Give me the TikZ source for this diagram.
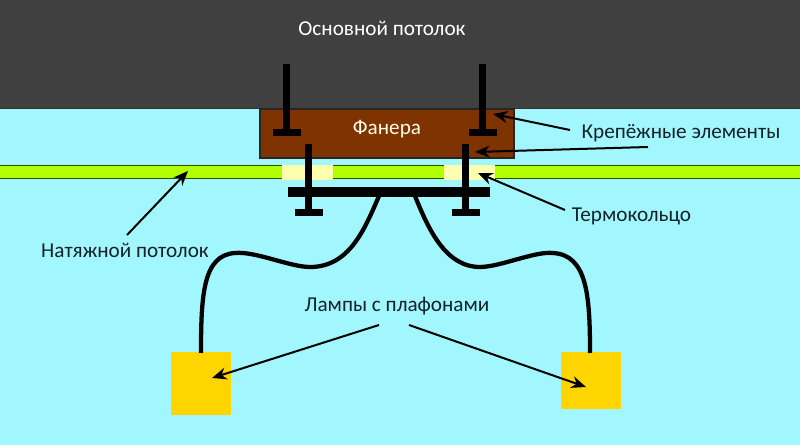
\documentclass[tikz,border=0pt]{standalone}
\usepackage{fontspec}
\setmainfont{Carlito}
\usetikzlibrary{arrows.meta}
\definecolor{roomblue}{HTML}{A2F7FE}
\definecolor{slabgray}{HTML}{404040}
\definecolor{plybrown}{HTML}{7F3300}
\definecolor{filmgreen}{HTML}{B2FF00}
\definecolor{ringyellow}{HTML}{FBFFAE}
\definecolor{lampyellow}{HTML}{FFD500}
\definecolor{inkdark}{HTML}{152228}
\tikzset{
  lbl/.style={font=\fontsize{15.9pt}{18pt}\selectfont, text=inkdark, inner sep=0pt},
  lamp/.style={fill=lampyellow, draw=none, inner sep=0pt, anchor=north west},
  wire/.style={draw=black, line width=3.2pt},
  ptr/.style={draw=black, line width=1.5pt, -{Stealth[length=11pt,width=9pt]}},
  bolt/.style={fill=black, draw=none}
}
\begin{document}
\begin{tikzpicture}[x=0.75pt,y=-0.75pt]
\useasboundingbox (0,0) rectangle (800,445);
\fill[roomblue] (0,0) rectangle (800,445);
\fill[slabgray] (0,0) rectangle (800,108);
\draw[draw=black!80, line width=0.8pt] (0,108.5) -- (800,108.5);
\draw[fill=filmgreen, draw=black!70!filmgreen, line width=0.7pt] (-2,165.5) rectangle (802,178.5);
\draw[fill=plybrown, draw=black!85, line width=0.9pt] (260,109) rectangle (514,158);
\fill[ringyellow] (282,165) rectangle (333,180);
\fill[ringyellow] (444,165) rectangle (495,180);
% upper screws
\fill[bolt] (283,64) rectangle (290,130);
\fill[bolt] (273,129) rectangle (301,136);
\fill[bolt] (479,64) rectangle (486,130);
\fill[bolt] (469,129) rectangle (497,136);
% lower screws
\fill[bolt] (305,144) rectangle (312,210);
\fill[bolt] (295,209) rectangle (323,216);
\fill[bolt] (462,144) rectangle (469,210);
\fill[bolt] (452,209) rectangle (480,216);
\fill[bolt] (288,187) rectangle (490,197);
% lamps
\node[lamp, minimum width=45pt, minimum height=47.25pt] (lampL) at (171,352) {};
\node[lamp, minimum width=45pt, minimum height=42.75pt] (lampR) at (561,352) {};
\coordinate (plateL) at (379,196);
\coordinate (plateR) at (415,196);
\coordinate (wireL) at (201,353);
\coordinate (wireR) at (590,353);
\draw[wire] (plateL) .. controls (365,228) and (350,267) .. (310,267)
  .. controls (290,267) and (255,251) .. (235,253)
  .. controls (203,255) and (201,295) .. (wireL);
\draw[wire] (plateR) .. controls (428,228) and (445,267) .. (480,267)
  .. controls (500,267) and (535,251) .. (553,253)
  .. controls (587,255) and (590,295) .. (wireR);
% labels
\node[lbl, text=white] (slab) at (382,28) {Основной потолок};
\node[lbl, text=white!90!yellow] (ply) at (387,129) {Фанера};
\node[lbl] (fasten) at (681,133) {Крепёжные элементы};
\node[lbl] (ring) at (631.5,216) {Термокольцо};
\node[lbl] (film) at (125,250) {Натяжной потолок};
\node[lbl] (lampsTxt) at (397,306) {Лампы с плафонами};
% pointers
\coordinate (fastenA) at (570,130);
\coordinate (fastenB) at (648,147);
\coordinate (ringS) at (565,210);
\coordinate (filmS) at (127,235);
\coordinate (lampsA) at (379,325);
\coordinate (lampsB) at (409,325);
\coordinate (tipA) at (493,114);
\coordinate (tipB) at (475,152);
\coordinate (tipC) at (478,173);
\coordinate (tipD) at (188,171);
\coordinate (tipE) at (212,378);
\coordinate (tipF) at (586,387);
\draw[ptr] (fastenA) -- (tipA);
\draw[ptr] (fastenB) -- (tipB);
\draw[ptr] (ringS) -- (tipC);
\draw[ptr] (filmS) -- (tipD);
\draw[ptr] (lampsA) -- (tipE);
\draw[ptr] (lampsB) -- (tipF);
\end{tikzpicture}
\end{document}
